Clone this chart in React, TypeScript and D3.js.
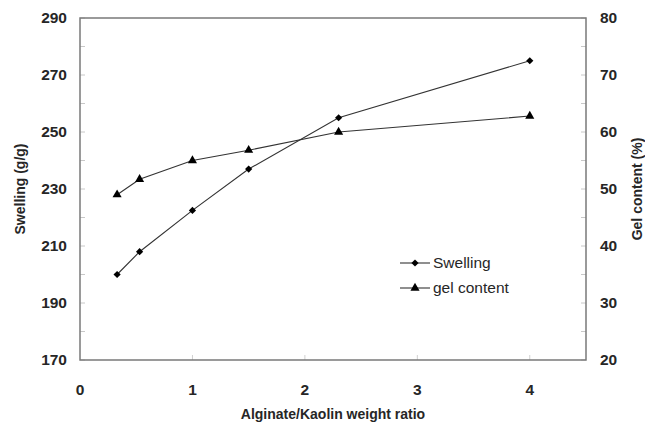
import React from "react";
import * as d3 from "d3";

const ratios = [0.33, 0.53, 1, 1.5, 2.3, 4];
const swelling = [200, 208, 222.5, 237, 255, 275];
const gelContent = [49, 51.7, 55, 56.8, 60, 62.8];
const xTicks = [0, 1, 2, 3, 4];
const leftTicks = [170, 190, 210, 230, 250, 270, 290];
const rightTicks = [20, 30, 40, 50, 60, 70, 80];
const seriesNames = ["Swelling", "gel content"];

const W = 645, H = 424;
const L = 80, R = 586, T = 18, B = 360;

export default function App() {
  const x = d3.scaleLinear().domain([0, 4.5]).range([L, R]);
  const yL = d3.scaleLinear().domain([170, 290]).range([B, T]);
  const yR = d3.scaleLinear().domain([20, 80]).range([B, T]);
  const lineS = d3.line<number>().x((_, i) => x(ratios[i])).y((d) => yL(d));
  const lineG = d3.line<number>().x((_, i) => x(ratios[i])).y((d) => yR(d));
  const font = "Arial, 'Liberation Sans', sans-serif";
  const txt = "#262626";
  const diamond = "M0,-3.6L3.6,0L0,3.6L-3.6,0Z";
  const triangle = d3.symbol().type(d3.symbolTriangle).size(36)() as string;
  const minorL = d3.range(170, 291, 10);
  const minorR = d3.range(20, 81, 5);
  const minorX = [1, 2, 3, 4];

  return (
    <svg width={W} height={H} style={{ position: "absolute", left: 0, top: 0, background: "#fff" }}>
      <rect x={0} y={0} width={W} height={H} fill="#fff" />
      {minorL.map((v) => (
        <line key={"ml" + v} x1={L} x2={L + 5} y1={yL(v)} y2={yL(v)} stroke="#c8c8c8" strokeWidth={1} />
      ))}
      {minorR.map((v) => (
        <line key={"mr" + v} x1={R - 5} x2={R} y1={yR(v)} y2={yR(v)} stroke="#c8c8c8" strokeWidth={1} />
      ))}
      {minorX.map((v) => (
        <line key={"mx" + v} x1={x(v)} x2={x(v)} y1={B} y2={B - 5} stroke="#d0d0d0" strokeWidth={1} />
      ))}
      <path d={`M${L},${T}H${R}V${B}H${L}Z`} fill="none" stroke="#7a7a7a" strokeWidth={1.5} />
      <path d={lineS(swelling) as string} fill="none" stroke="#333" strokeWidth={1.1} />
      <path d={lineG(gelContent) as string} fill="none" stroke="#333" strokeWidth={1.1} />
      {swelling.map((v, i) => (
        <path key={"s" + i} d={diamond} transform={`translate(${x(ratios[i])},${yL(v)})`} fill="#000" />
      ))}
      {gelContent.map((v, i) => (
        <path key={"g" + i} d={triangle} transform={`translate(${x(ratios[i])},${yR(v)})`} fill="#000" />
      ))}
      {leftTicks.map((v) => (
        <text key={"lt" + v} x={67} y={yL(v)} dy="0.35em" textAnchor="end" fontFamily={font} fontWeight="bold" fontSize={15.5} fill={txt}>{v}</text>
      ))}
      {rightTicks.map((v) => (
        <text key={"rt" + v} x={600} y={yR(v)} dy="0.35em" textAnchor="start" fontFamily={font} fontWeight="bold" fontSize={15.5} fill={txt}>{v}</text>
      ))}
      {xTicks.map((v) => (
        <text key={"xt" + v} x={x(v)} y={390} dy="0.35em" textAnchor="middle" fontFamily={font} fontWeight="bold" fontSize={15.5} fill={txt}>{v}</text>
      ))}
      <text transform={`translate(20,${(T + B) / 2}) rotate(-90)`} dy="0.35em" textAnchor="middle" fontFamily={font} fontWeight="bold" fontSize={14} fill={txt}>Swelling (g/g)</text>
      <text transform={`translate(637,${(T + B) / 2}) rotate(-90)`} dy="0.35em" textAnchor="middle" fontFamily={font} fontWeight="bold" fontSize={14} fill={txt}>Gel content (%)</text>
      <text x={(L + R) / 2} y={414} dy="0.35em" textAnchor="middle" fontFamily={font} fontWeight="bold" fontSize={14} fill={txt}>Alginate/Kaolin weight ratio</text>
      {seriesNames.map((n, i) => (
        <g key={n} transform={`translate(400,${263 + i * 25})`}>
          <line x1={0} x2={30} y1={0} y2={0} stroke="#333" strokeWidth={1.1} />
          <path d={i === 0 ? diamond : triangle} transform="translate(15,0)" fill="#000" />
          <text x={33} y={0} dy="0.35em" fontFamily={font} fontSize={15.5} fill={txt}>{n}</text>
        </g>
      ))}
    </svg>
  );
}
